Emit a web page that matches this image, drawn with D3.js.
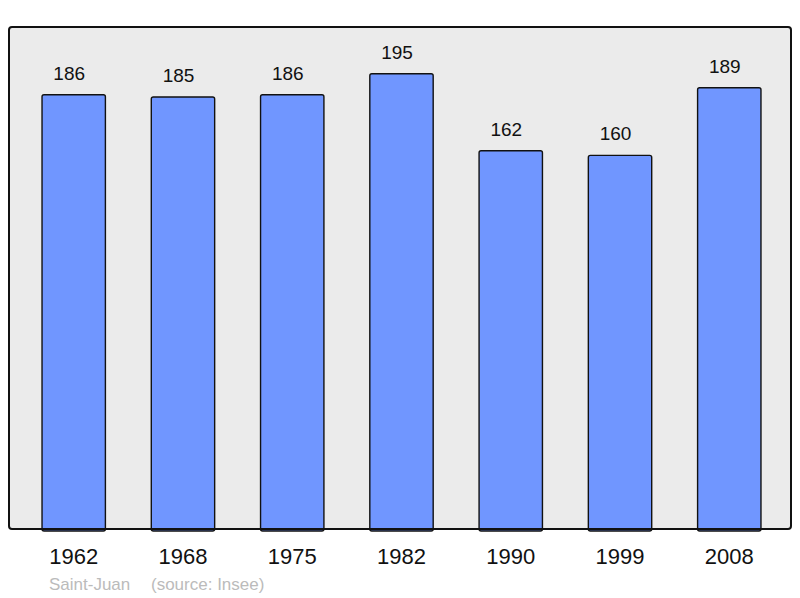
<!DOCTYPE html>
<html>
<head>
<meta charset="utf-8">
<script src="https://cdn.jsdelivr.net/npm/d3@7"></script>
<style>
  body { margin: 0; background: #fff; }
  text { font-family: "Liberation Sans", Arial, sans-serif; }
</style>
</head>
<body>
<div id="chart"></div>
<script>
// population data
const years = ['1962', '1968', '1975', '1982', '1990', '1999', '2008'];
const population = [186, 185, 186, 195, 162, 160, 189];
const place = 'Saint-Juan';
const source = '(source: Insee)';

const W = 800, H = 598;
const frame = { left: 9, top: 27, right: 791, bottom: 529 };

const svg = d3.select('#chart').append('svg')
    .attr('width', W)
    .attr('height', H);

// plot background
svg.append('rect')
    .attr('x', frame.left)
    .attr('y', frame.top)
    .attr('width', frame.right - frame.left)
    .attr('height', frame.bottom - frame.top)
    .attr('rx', 3)
    .style('fill', '#ebebeb')
    .style('stroke', 'none');

const x = d3.scaleBand()
    .domain(years)
    .range([11, 792])
    .paddingInner(0.42)
    .paddingOuter(0.284);

const y = d3.scaleLinear()
    .domain([0, 215])
    .range([frame.bottom, frame.top]);

const rows = years.map((yr, i) => ({ year: yr, value: population[i] }));

svg.selectAll('rect.bar')
    .data(rows)
    .enter().append('rect')
    .attr('class', 'bar')
    .attr('x', d => x(d.year))
    .attr('y', d => y(d.value))
    .attr('width', x.bandwidth())
    .attr('height', d => frame.bottom - y(d.value) + 2)
    .attr('rx', 2)
    .style('fill', '#7096ff')
    .style('stroke', '#111')
    .style('stroke-width', 1.4);

// value labels
svg.selectAll('text.val')
    .data(rows)
    .enter().append('text')
    .attr('class', 'val')
    .attr('x', d => x(d.year) + x.bandwidth() / 2 - 4.5)
    .attr('y', d => y(d.value) - 15)
    .attr('text-anchor', 'middle')
    .style('font-size', '19px')
    .style('fill', '#111')
    .text(d => d.value);

// frame border on top
svg.append('rect')
    .attr('x', frame.left)
    .attr('y', frame.top)
    .attr('width', frame.right - frame.left)
    .attr('height', frame.bottom - frame.top)
    .attr('rx', 3)
    .style('fill', 'none')
    .style('stroke', '#111')
    .style('stroke-width', 2);

// x axis labels
const xAxis = d3.axisBottom(x).tickSize(0).tickPadding(0);
const xAxisG = svg.append('g')
    .attr('transform', `translate(0,${frame.bottom})`)
    .call(xAxis);
xAxisG.select('.domain').remove();
xAxisG.selectAll('text')
    .attr('y', 35)
    .attr('dy', null)
    .style('font-family', '"Liberation Sans", Arial, sans-serif')
    .style('font-size', '22px')
    .style('fill', '#111');

// footer
svg.append('text')
    .attr('x', 49)
    .attr('y', 590)
    .style('font-size', '17px')
    .style('fill', '#bbbbbb')
    .text(place);

svg.append('text')
    .attr('x', 151)
    .attr('y', 590)
    .style('font-size', '17px')
    .style('fill', '#bbbbbb')
    .text(source);
</script>
</body>
</html>
